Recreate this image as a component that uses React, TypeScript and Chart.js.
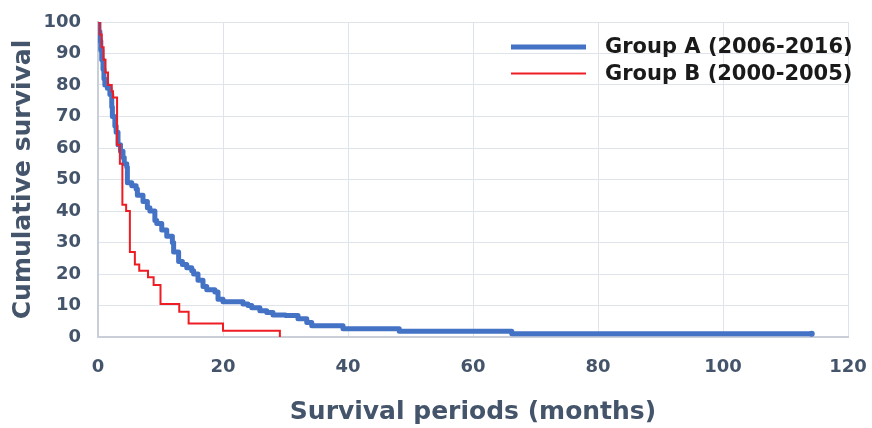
import React, { useEffect, useRef } from "react";
import Chart from "chart.js/auto";

// Group A (2006-2016): time in months and cumulative survival (%)
const groupAMonths = [0, 0.15, 0.3, 0.45, 0.6, 0.8, 0.95, 1.1, 1.5, 1.9, 2.2, 2.3, 2.7, 2.9, 3.2, 3.6, 4.0, 4.2, 4.6, 4.7, 5.4, 6.1, 6.3, 7.2, 7.9, 8.3, 9.1, 9.4, 10.2, 11.0, 11.9, 12.1, 12.9, 13.5, 14.2, 15.0, 15.3, 16.0, 16.8, 17.4, 18.7, 19.2, 20.0, 23.2, 24.0, 24.6, 25.9, 27.0, 28.0, 30.0, 32.0, 33.4, 34.2, 39.2, 48.2, 66.2, 114.2];
const groupASurvival = [100, 97, 94, 91, 88, 85, 82, 80, 79, 77, 73, 70, 67, 65, 61, 59, 57, 55, 54, 49, 48, 47, 45, 43, 41, 40, 37, 36, 34, 32, 30, 27, 24, 23, 22, 21, 20, 18, 16, 15, 14.3, 12, 11.2, 10.5, 10, 9.3, 8.3, 7.8, 7, 6.8, 5.8, 4.6, 3.6, 2.6, 1.8, 1.0, 1.0];

// Group B (2000-2005)
const groupBMonths = [0, 0.3, 0.6, 0.9, 1.2, 1.6, 2.2, 2.4, 3.05, 3.5, 3.9, 4.5, 5.1, 5.9, 6.6, 8.0, 8.9, 10.0, 13.0, 14.5, 20.0, 29.1];
const groupBSurvival = [100, 96, 92, 88, 84, 80, 78, 76, 61, 55, 42, 40, 27, 23, 21, 19, 16.5, 10.5, 8, 4.3, 2, 0];

const seriesLabels = ["Group A (2006-2016)", "Group B (2000-2005)"];
const xTitle = "Survival periods (months)";
const yTitle = "Cumulative survival";

const TEXT = "#44546a";
const BLUE = "#4472c4";
const RED = "#ee1d23";
const FONT = "'DejaVu Sans', sans-serif";

const legendPlugin = {
  id: "insideLegend",
  afterDraw(chart: any) {
    const { ctx, chartArea } = chart;
    const lineX0 = chartArea.right - 337;
    const lineX1 = chartArea.right - 262;
    const textX = chartArea.right - 243;
    const rows = [
      { y: chartArea.top + 25, color: BLUE, width: 5, label: seriesLabels[0] },
      { y: chartArea.top + 51.5, color: RED, width: 2, label: seriesLabels[1] },
    ];
    ctx.save();
    ctx.font = `bold 21px ${FONT}`;
    ctx.textBaseline = "middle";
    ctx.textAlign = "left";
    for (const r of rows) {
      ctx.strokeStyle = r.color;
      ctx.lineWidth = r.width;
      ctx.beginPath();
      ctx.moveTo(lineX0, r.y);
      ctx.lineTo(lineX1, r.y);
      ctx.stroke();
      ctx.fillStyle = "#1a1a1a";
      ctx.fillText(r.label, textX, r.y + 1);
    }
    ctx.restore();
  },
};

export default function App() {
  const ref = useRef<HTMLCanvasElement | null>(null);
  useEffect(() => {
    if (!ref.current) return;
    const dataA = groupAMonths.map((x, i) => ({ x, y: groupASurvival[i] }));
    const dataB = groupBMonths.map((x, i) => ({ x, y: groupBSurvival[i] }));
    const chart = new Chart(ref.current, {
      type: "line",
      data: {
        datasets: [
          {
            label: seriesLabels[1],
            data: dataB,
            borderColor: RED,
            backgroundColor: RED,
            borderWidth: 2,
            stepped: "before",
            pointRadius: 0,
            fill: false,
          },
          {
            label: seriesLabels[0],
            data: dataA,
            borderColor: BLUE,
            backgroundColor: BLUE,
            borderWidth: 5,
            stepped: "before",
            borderJoinStyle: "round",
            pointRadius: dataA.map((_, i) => (i === dataA.length - 1 ? 3 : 0)),
            pointBorderWidth: 0,
            fill: false,
          },
        ],
      },
      options: {
        animation: false,
        responsive: true,
        maintainAspectRatio: false,
        layout: { padding: { top: 22, right: 24, left: 0, bottom: 0 } },
        plugins: { legend: { display: false }, tooltip: { enabled: false } },
        scales: {
          x: {
            type: "linear",
            min: 0,
            max: 120,
            afterFit: (s: any) => {
              s.height = 91;
              s.paddingLeft = 0;
              s.paddingRight = 0;
            },
            ticks: {
              stepSize: 20,
              padding: 20,
              color: TEXT,
              font: { family: FONT, size: 18, weight: "bold" },
            },
            grid: { color: "#dfe3ea", lineWidth: 1, drawTicks: false },
            border: { color: "#c9ced8", width: 2 },
            title: {
              display: true,
              text: xTitle,
              color: TEXT,
              font: { family: FONT, size: 25, weight: "bold" },
              padding: { top: 0, bottom: 1 },
            },
          },
          y: {
            min: 0,
            max: 100,
            afterFit: (s: any) => {
              s.width = 98;
              s.paddingTop = 0;
              s.paddingBottom = 0;
            },
            ticks: {
              stepSize: 10,
              padding: 17,
              color: TEXT,
              font: { family: FONT, size: 18, weight: "bold" },
            },
            grid: { color: "#dfe3ea", lineWidth: 1, drawTicks: false },
            border: { color: "#c9ced8", width: 2 },
            title: {
              display: true,
              text: yTitle,
              color: TEXT,
              font: { family: FONT, size: 25, weight: "bold" },
              padding: { top: 8, bottom: 0 },
            },
          },
        },
      },
      plugins: [legendPlugin],
    });
    return () => chart.destroy();
  }, []);
  return (
    <div style={{ position: "absolute", left: 0, top: 0, width: 872, height: 428, background: "#fff" }}>
      <canvas ref={ref} />
    </div>
  );
}
